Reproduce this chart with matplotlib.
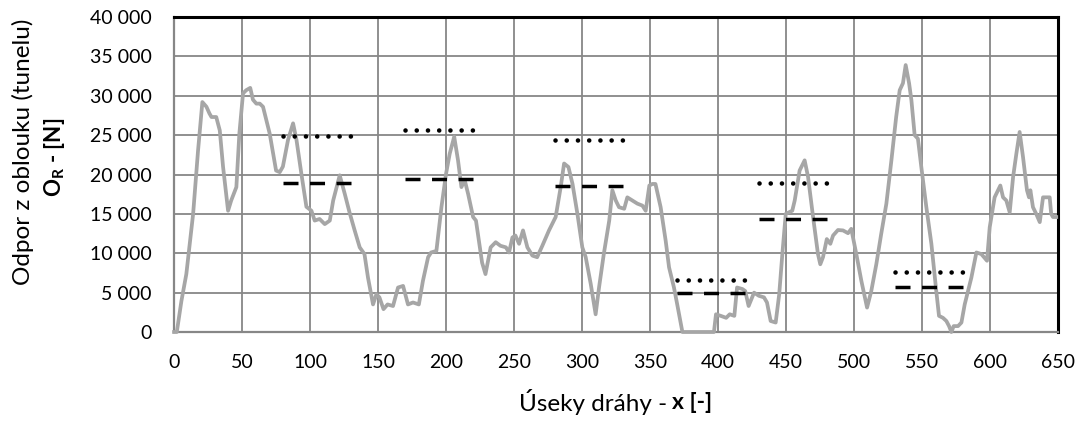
import matplotlib
matplotlib.use("Agg")
import matplotlib.pyplot as plt
from matplotlib.ticker import FuncFormatter, MultipleLocator

plt.rcParams['font.family'] = ['Lato', 'DejaVu Sans']
plt.rcParams['mathtext.fontset'] = 'custom'
plt.rcParams['mathtext.rm'] = 'Lato'
plt.rcParams['mathtext.bf'] = 'Lato:bold'

# resistance along the track
x_vals = [0, 2, 5.4, 9, 14, 17.6, 20.8, 23.8, 26, 27.5, 31, 33.6, 36, 39.7, 42, 45.8, 48,
          50.7, 53, 56, 58, 60.5, 63, 65.4, 70.3, 75, 77.7, 80, 83.8, 87.5, 90, 93.6, 97.3,
          101, 103.4, 107, 110.8, 114.5, 117, 121.8, 125.5, 129, 132.8, 136.5, 140, 142.6,
          146.3, 148.8, 151, 154, 157, 161, 164.7, 168.4, 172, 175.7, 180, 183, 186.8, 189,
          192.9, 196.6, 200, 202.7, 206, 208.8, 211.3, 213.7, 216.2, 219.9, 222, 226.5, 229,
          232.8, 236.5, 240, 244, 246.3, 248.8, 251, 253.7, 256.6, 259.8, 263.5, 267, 270.8,
          275.7, 280.6, 284.3, 286.8, 290, 293, 296.6, 300.2, 302.7, 306.4, 310, 312.5, 316,
          320, 322.3, 324.8, 327.2, 331, 333.3, 337, 340.7, 344.4, 346.8, 349.5, 351.7, 354,
          357.8, 361.5, 364, 367.6, 370, 373.8, 397, 398.5, 402, 406, 408.6, 412, 414, 418,
          420, 422.5, 426.5, 430, 433.8, 436, 438.7, 442.4, 445, 447.3, 449.8, 454.6, 456.4,
          460, 463.7, 466.2, 469.9, 473.5, 475.2, 477.2, 480, 482.6, 484.6, 488.2, 491.9,
          495.6, 498, 501.7, 505.4, 509.6, 512.7, 516.4, 520, 523.8, 527.5, 531, 533.6, 536,
          538, 540.5, 542.2, 544.6, 547, 549.5, 553.2, 556.9, 560.5, 562.5, 565.4, 567.9,
          569.9, 571.6, 573.3, 576.5, 579, 581.4, 586.3, 590, 593.6, 597.8, 599.8, 603.4,
          607.6, 609.6, 612, 614.5, 617, 619.4, 621.8, 624.3, 627.2, 628.7, 629.7, 631.6,
          634, 636.6, 639, 641.4, 643.9, 645, 646.3, 648.7]
y_vals = [0, 0, 3950, 7350, 15000, 23000, 29200, 28600, 27750, 27300, 27300, 25600, 21000,
          15400, 16700, 18400, 25200, 30300, 30700, 31000, 29500, 29000, 29000, 28600, 25200,
          20500, 20300, 21000, 24400, 26500, 24400, 20100, 15900, 15400, 14150, 14350, 13700,
          14150, 16700, 19900, 17550, 15200, 12900, 10750, 9900, 6900, 3500, 4800, 4400, 2900,
          3500, 3300, 5650, 5850, 3500, 3750, 3500, 6500, 9500, 10100, 10300, 15850, 20100,
          22650, 24800, 21800, 18400, 19300, 17550, 14600, 14150, 8800, 7350, 10750, 11400,
          10950, 10750, 10100, 12000, 12250, 11200, 12900, 10750, 9700, 9500, 10950, 12900,
          14600, 18400, 21400, 20950, 18800, 15000, 10750, 9500, 6100, 2250, 5650, 9900,
          14150, 18000, 16700, 15850, 15650, 17100, 16700, 16300, 16050, 15400, 18600, 18800,
          18800, 15850, 11600, 8200, 5650, 3500, 0, 0, 2250, 2050, 1800, 2250, 2050, 5650,
          5450, 5200, 3300, 5000, 4600, 4400, 3750, 1400, 1200, 4800, 9900, 15000, 15400,
          16700, 20500, 21800, 19700, 14600, 9900, 8600, 9500, 11800, 11200, 12250, 12950,
          12900, 12550, 13100, 9900, 6500, 3100, 5200, 8600, 12450, 16300, 21800, 27300,
          30700, 31600, 33900, 31600, 29450, 25000, 24550, 20950, 15850, 11200, 5200, 2050,
          1800, 1400, 750, 0, 750, 750, 1200, 3500, 6900, 10100, 9900, 9050, 13300, 17100,
          18600, 17100, 16700, 15200, 19700, 22650, 25400, 22200, 18000, 17100, 18000, 15850,
          15000, 13950, 17100, 17100, 17100, 15000, 14600, 14600]

# section limits and the two reference levels for each section
seg_start = [80, 170, 280, 370, 430, 530]
seg_end = [130, 220, 330, 420, 480, 580]
level_dotted = [24900, 25600, 24400, 6600, 18900, 7600]
level_dashed = [18900, 19400, 18500, 5000, 14300, 5750]

fig = plt.figure(figsize=(10.86, 4.21), dpi=100)
ax = fig.add_axes([0.1603, 0.2114, 0.8139, 0.7482])

ax.plot(x_vals, y_vals, color='#a6a6a6', lw=2.7, solid_joinstyle='round', zorder=3, clip_on=False)

for x0, x1, yd, ys in zip(seg_start, seg_end, level_dotted, level_dashed):
    ax.plot([x0, x1], [yd, yd], color='black', lw=3.3, dash_capstyle='round',
            dashes=(0.01, 8.05 / 3.3), zorder=4)
    ax.plot([x0, x1], [ys, ys], color='black', lw=2.5, dash_capstyle='butt',
            dashes=(10.8 / 2.5, 8.3 / 2.5), zorder=4)

ax.set_xlim(0, 650)
ax.set_ylim(0, 40000)
ax.xaxis.set_major_locator(MultipleLocator(50))
ax.yaxis.set_major_locator(MultipleLocator(5000))
ax.yaxis.set_major_formatter(FuncFormatter(lambda v, p: f"{int(v):,}".replace(",", " ")))
ax.grid(True, color='#878787', lw=1.3, zorder=1)
ax.set_axisbelow(True)
ax.tick_params(length=0, labelsize=14, pad=16)

for side in ['top', 'right']:
    ax.spines[side].set_color('black')
    ax.spines[side].set_linewidth(2.2)
for side in ['left', 'bottom']:
    ax.spines[side].set_color('#878787')
    ax.spines[side].set_linewidth(1.6)

fig.text(0.021, 0.639, "Odpor z oblouku (tunelu)", rotation=90, ha='center', va='center', fontsize=17.5)
fig.text(0.050, 0.627, r"$\mathbf{O_R}$ - [N]", rotation=90, ha='center', va='center',
         fontsize=16, fontweight='bold')
fig.text(0.6140, 0.045, "Úseky dráhy -", ha='right', va='center', fontsize=17.5)
fig.text(0.6190, 0.045, "x [-]", ha='left', va='center', fontsize=16.5, fontweight='bold')

fig.savefig("out.png", dpi=100)
